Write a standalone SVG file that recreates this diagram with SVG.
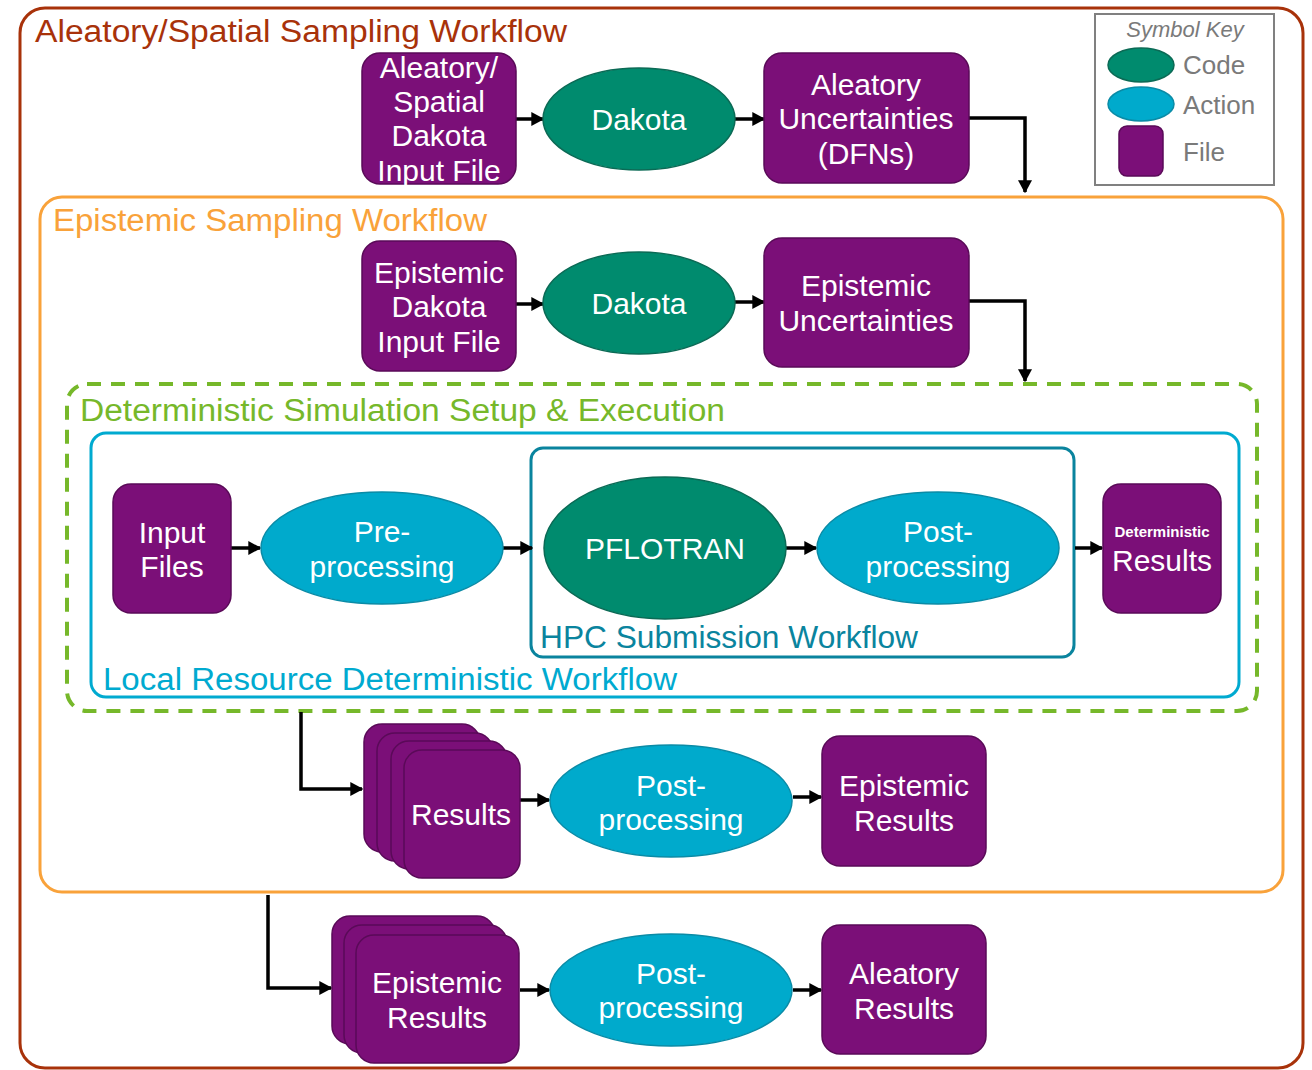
<svg xmlns="http://www.w3.org/2000/svg" width="1312" height="1070" viewBox="0 0 1312 1070">
<defs>
<style>
.t{font-family:"Liberation Sans",Arial,sans-serif;}
.nt{font-family:"Liberation Sans",Arial,sans-serif;font-size:30px;fill:#ffffff;text-anchor:middle;}
.small{font-size:15px;font-weight:bold;}
.file{fill:#7B0F78;stroke:#5A0A58;stroke-width:1.5;}
.code{fill:#008B6E;stroke:#0B6A55;stroke-width:1.5;}
.act{fill:#00AACC;stroke:#0A8BA6;stroke-width:1.5;}
.conn{fill:none;stroke:#000;stroke-width:3.5;marker-end:url(#ah);}
.ttl{font-family:"Liberation Sans",Arial,sans-serif;font-size:31px;}
.key{font-family:"Liberation Sans",Arial,sans-serif;font-size:26px;fill:#7a7a7a;}
</style>
<marker id="ah" viewBox="0 0 10 10" refX="9" refY="5" markerWidth="13" markerHeight="14" markerUnits="userSpaceOnUse" orient="auto" preserveAspectRatio="none">
<path d="M0,0 L10,5 L0,10 z" fill="#000"/>
</marker>
</defs>
<rect width="1312" height="1070" fill="#ffffff"/>

<g id="containers">
<rect x="20" y="8" width="1283" height="1060" rx="25" fill="none" stroke="#A8320A" stroke-width="3"/>
<text class="ttl" x="35" y="42" fill="#A8320A" textLength="532" lengthAdjust="spacingAndGlyphs">Aleatory/Spatial Sampling Workflow</text>
<rect x="40" y="197" width="1243" height="695" rx="22" fill="none" stroke="#F9A23A" stroke-width="3"/>
<text class="ttl" x="53" y="231" fill="#F9A23A" textLength="434" lengthAdjust="spacingAndGlyphs">Epistemic Sampling Workflow</text>
<rect x="67" y="384" width="1190" height="327" rx="20" fill="none" stroke="#76B82A" stroke-width="4" stroke-dasharray="14 10"/>
<text class="ttl" x="80" y="421" fill="#76B82A" textLength="645" lengthAdjust="spacingAndGlyphs">Deterministic Simulation Setup &amp; Execution</text>
<rect x="91" y="433" width="1148" height="264" rx="15" fill="none" stroke="#00AAD0" stroke-width="3"/>
<text class="ttl" x="103" y="690" fill="#00AAD0" textLength="574" lengthAdjust="spacingAndGlyphs">Local Resource Deterministic Workflow</text>
<rect x="531" y="448" width="543" height="209" rx="12" fill="none" stroke="#0A849E" stroke-width="3"/>
<text class="ttl" x="540" y="648" fill="#0A849E" textLength="378" lengthAdjust="spacingAndGlyphs">HPC Submission Workflow</text>
</g>

<g id="symbol-key">
<rect x="1095" y="14" width="179" height="171" fill="#fff" stroke="#808080" stroke-width="2"/>
<text class="t" x="1185" y="37" font-size="22" font-style="italic" fill="#7a7a7a" text-anchor="middle">Symbol Key</text>
<ellipse class="code" cx="1141" cy="65" rx="33" ry="17"/>
<text class="key" x="1183" y="74">Code</text>
<ellipse class="act" cx="1141" cy="104" rx="33" ry="17"/>
<text class="key" x="1183" y="114">Action</text>
<rect class="file" x="1119" y="126" width="44" height="50" rx="8"/>
<text class="key" x="1183" y="161">File</text>
</g>

<g id="connectors">
<path class="conn" d="M516,119 H543"/>
<path class="conn" d="M735,119 H764"/>
<path class="conn" d="M969,118 H1025 V192"/>
<path class="conn" d="M516,304 H543"/>
<path class="conn" d="M735,302 H764"/>
<path class="conn" d="M969,301 H1025 V381"/>
<path class="conn" d="M231,548 H260"/>
<path class="conn" d="M503,548 H532"/>
<path class="conn" d="M786,548 H816"/>
<path class="conn" d="M1075,548 H1102"/>
<path class="conn" d="M301,712 V789 H362"/>
<path class="conn" d="M520,800 H549"/>
<path class="conn" d="M793,797 H821"/>
<path class="conn" d="M268,895 V988 H331"/>
<path class="conn" d="M520,990 H549"/>
<path class="conn" d="M793,990 H821"/>
</g>

<g id="aleatory-input">
<rect class="file" x="362" y="53" width="154" height="131" rx="18"/>
<text class="nt" x="439" y="78">Aleatory/</text>
<text class="nt" x="439" y="112">Spatial</text>
<text class="nt" x="439" y="146">Dakota</text>
<text class="nt" x="439" y="181">Input File</text>
</g>
<g id="dakota-1">
<ellipse class="code" cx="639" cy="119" rx="96" ry="51"/>
<text class="nt" x="639" y="130">Dakota</text>
</g>
<g id="aleatory-uncertainties">
<rect class="file" x="764" y="53" width="205" height="130" rx="18"/>
<text class="nt" x="866" y="95">Aleatory</text>
<text class="nt" x="866" y="129">Uncertainties</text>
<text class="nt" x="866" y="164">(DFNs)</text>
</g>

<g id="epistemic-input">
<rect class="file" x="362" y="241" width="154" height="130" rx="18"/>
<text class="nt" x="439" y="283">Epistemic</text>
<text class="nt" x="439" y="317">Dakota</text>
<text class="nt" x="439" y="352">Input File</text>
</g>
<g id="dakota-2">
<ellipse class="code" cx="639" cy="303" rx="96" ry="51"/>
<text class="nt" x="639" y="314">Dakota</text>
</g>
<g id="epistemic-uncertainties">
<rect class="file" x="764" y="238" width="205" height="129" rx="18"/>
<text class="nt" x="866" y="296">Epistemic</text>
<text class="nt" x="866" y="331">Uncertainties</text>
</g>

<g id="input-files">
<rect class="file" x="113" y="484" width="118" height="129" rx="18"/>
<text class="nt" x="172" y="543">Input</text>
<text class="nt" x="172" y="577">Files</text>
</g>
<g id="pre-processing">
<ellipse class="act" cx="382" cy="548" rx="121" ry="56"/>
<text class="nt" x="382" y="542">Pre-</text>
<text class="nt" x="382" y="577">processing</text>
</g>
<g id="pflotran">
<ellipse class="code" cx="665" cy="548" rx="121" ry="71"/>
<text class="nt" x="665" y="559">PFLOTRAN</text>
</g>
<g id="post-processing-hpc">
<ellipse class="act" cx="938" cy="548" rx="121" ry="56"/>
<text class="nt" x="938" y="542">Post-</text>
<text class="nt" x="938" y="577">processing</text>
</g>
<g id="deterministic-results">
<rect class="file" x="1103" y="484" width="118" height="129" rx="18"/>
<text class="nt small" x="1162" y="537">Deterministic</text>
<text class="nt" x="1162" y="571">Results</text>
</g>

<g id="results-stack">
<rect class="file" x="364" y="724" width="116" height="128" rx="18"/>
<rect class="file" x="377" y="733" width="116" height="128" rx="18"/>
<rect class="file" x="391" y="741" width="116" height="128" rx="18"/>
<rect class="file" x="404" y="750" width="116" height="128" rx="18"/>
<text class="nt" x="461" y="825">Results</text>
</g>
<g id="post-processing-epistemic">
<ellipse class="act" cx="671" cy="801" rx="121" ry="56"/>
<text class="nt" x="671" y="796">Post-</text>
<text class="nt" x="671" y="830">processing</text>
</g>
<g id="epistemic-results">
<rect class="file" x="822" y="736" width="164" height="130" rx="18"/>
<text class="nt" x="904" y="796">Epistemic</text>
<text class="nt" x="904" y="831">Results</text>
</g>

<g id="epistemic-results-stack">
<rect class="file" x="332" y="916" width="163" height="128" rx="18"/>
<rect class="file" x="344" y="925" width="163" height="128" rx="18"/>
<rect class="file" x="356" y="935" width="163" height="128" rx="18"/>
<text class="nt" x="437" y="993">Epistemic</text>
<text class="nt" x="437" y="1028">Results</text>
</g>
<g id="post-processing-aleatory">
<ellipse class="act" cx="671" cy="990" rx="121" ry="56"/>
<text class="nt" x="671" y="984">Post-</text>
<text class="nt" x="671" y="1018">processing</text>
</g>
<g id="aleatory-results">
<rect class="file" x="822" y="925" width="164" height="129" rx="18"/>
<text class="nt" x="904" y="984">Aleatory</text>
<text class="nt" x="904" y="1019">Results</text>
</g>
</svg>
